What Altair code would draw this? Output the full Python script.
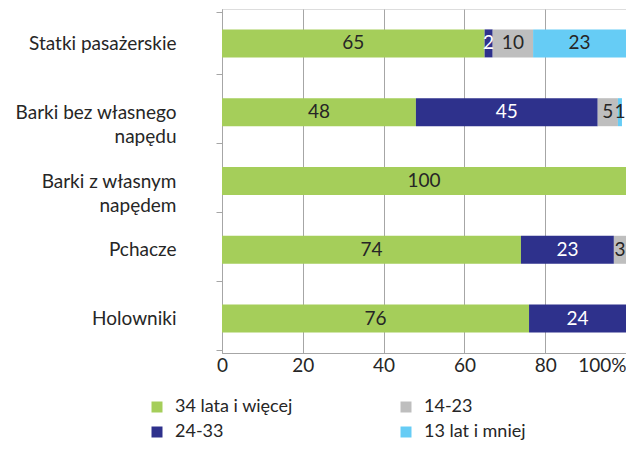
import altair as alt
import pandas as pd

categories = ["Statki pasażerskie", "Barki bez własnego|napędu", "Barki z własnym|napędem", "Pchacze", "Holowniki"]
groups = ["34 lata i więcej", "24-33", "14-23", "13 lat i mniej"]
v34 = [65, 48, 100, 74, 76]
v24 = [2, 45, 0, 23, 24]
v14 = [10, 5, 0, 3, 0]
v13 = [23, 1, 0, 0, 0]
group_colors = ["#A5CE5A", "#2E318C", "#BEBEBE", "#66CCF5"]
x_ticks = [0, 20, 40, 60, 80, 100]

FONT = "Lato"
FS = 19
rows = []
for i, c in enumerate(categories):
    for j, (g, vals) in enumerate(zip(groups, [v34, v24, v14, v13])):
        rows.append({"cat": c, "grp": g, "ord": j, "val": vals[i]})
df = pd.DataFrame(rows)

base = (
    alt.Chart(df)
    .transform_filter("datum.val > 0")
    .transform_stack(stack="val", groupby=["cat"], sort=[alt.SortField("ord")], as_=["x0", "x1"])
    .transform_calculate(mid="(datum.x0 + datum.x1) / 2", lab="datum.val + ''")
)

y_enc = alt.Y(
    "cat:N",
    sort=categories,
    title=None,
    axis=alt.Axis(
        labelExpr="split(datum.label, '|')",
        labelFontSize=FS,
        labelFont=FONT,
        labelColor="#262626",
        labelLineHeight=24,
        labelPadding=40,
        tickSize=6,
        tickBand="extent",
        tickColor="#A6A6A6",
        domainColor="#A6A6A6",
        labelAlign="right",
        grid=False,
    ),
)

bars = base.mark_bar(size=28).encode(
    x=alt.X(
        "x0:Q",
        scale=alt.Scale(domain=[0, 100], nice=False),
        title=None,
        axis=alt.Axis(
            values=x_ticks,
            labelExpr="datum.value == 100 ? '100%' : datum.label",
            labelAlign={"condition": {"test": "datum.value == 100", "value": "right"}, "value": "center"},
            labelFontSize=FS,
            labelFont=FONT,
            labelColor="#262626",
            labelPadding=3,
            grid=True,
            gridColor="#A6A6A6",
            domainColor="#A6A6A6",
            tickColor="#A6A6A6",
            tickSize=0,
        ),
    ),
    x2="x1:Q",
    y=y_enc,
    color=alt.Color(
        "grp:N",
        scale=alt.Scale(domain=groups, range=group_colors),
        legend=alt.Legend(
            title=None,
            orient="none",
            legendX=-74,
            legendY=389,
            columns=2,
            columnPadding=104,
            rowPadding=7,
            symbolType="square",
            symbolSize=121,
            symbolStrokeWidth=0,
            labelOffset=9,
            labelFontSize=18,
            labelFont=FONT,
            labelColor="#262626",
            padding=0,
        ),
    ),
)

texts = base.mark_text(fontSize=FS, font=FONT).encode(
    x="mid:Q",
    y=alt.Y("cat:N", sort=categories),
    text="lab:N",
    color=alt.condition("datum.grp == '24-33'", alt.value("white"), alt.value("#262626")),
)

chart = (
    alt.layer(bars, texts)
    .properties(
        width=404,
        height=344,
        autosize=alt.AutoSizeParams(type="none"),
        padding={"left": 214, "top": 1, "right": 0, "bottom": 90},
    )
    .configure_view(stroke=None)
    .configure(background="white")
)

chart.save("out.html", embed_options={"renderer": "svg", "actions": False})
